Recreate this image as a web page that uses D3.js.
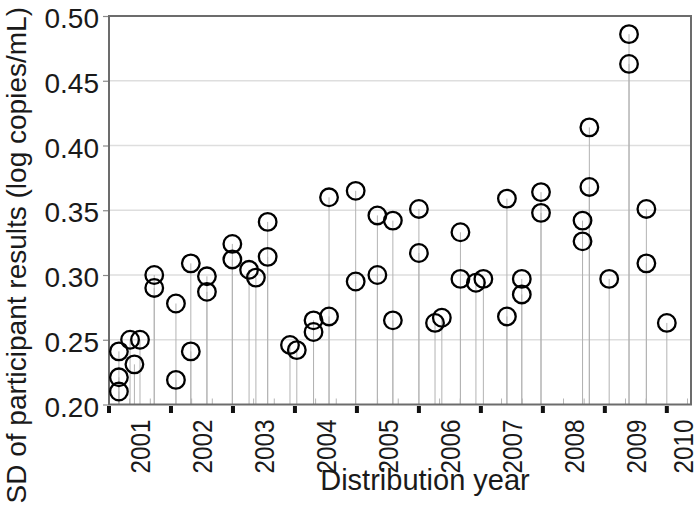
<!DOCTYPE html>
<html>
<head>
<meta charset="utf-8">
<script src="https://cdn.jsdelivr.net/npm/d3@7"></script>
<style>
  html, body { margin: 0; padding: 0; background: #fff; }
  svg { display: block; }
  text { font-family: "Liberation Sans", Arial, sans-serif; fill: #1a1a1a; }
</style>
</head>
<body>
<script>
// ---- Data ----
const sampleDates = [
  2001.16, 2001.16, 2001.16, 2001.34, 2001.50, 2001.41, 2001.73, 2001.73,
  2002.08, 2002.08, 2002.32, 2002.32, 2002.58, 2002.58, 2002.99, 2002.99,
  2003.26, 2003.37, 2003.56, 2003.56, 2003.92, 2004.03, 2004.30, 2004.30,
  2004.55, 2004.55, 2004.98, 2004.98, 2005.33, 2005.33, 2005.58, 2005.58,
  2006.00, 2006.00, 2006.26, 2006.37, 2006.67, 2006.67, 2006.92, 2007.04,
  2007.42, 2007.42, 2007.66, 2007.66, 2007.97, 2007.97, 2008.64, 2008.64,
  2008.75, 2008.75, 2009.07, 2009.39, 2009.39, 2009.67, 2009.67, 2010.00
];
const sdValues = [
  0.210, 0.221, 0.241, 0.250, 0.250, 0.231, 0.300, 0.290,
  0.278, 0.219, 0.309, 0.241, 0.299, 0.287, 0.324, 0.312,
  0.304, 0.298, 0.341, 0.314, 0.246, 0.242, 0.265, 0.256,
  0.268, 0.360, 0.365, 0.295, 0.346, 0.300, 0.342, 0.265,
  0.351, 0.317, 0.263, 0.267, 0.333, 0.297, 0.294, 0.297,
  0.359, 0.268, 0.297, 0.285, 0.364, 0.348, 0.342, 0.326,
  0.414, 0.368, 0.297, 0.486, 0.463, 0.351, 0.309, 0.263
];
const yTicks = [0.20, 0.25, 0.30, 0.35, 0.40, 0.45, 0.50];
const yTickLabels = ["0.20", "0.25", "0.30", "0.35", "0.40", "0.45", "0.50"];
const yearTicks = [2001, 2002, 2003, 2004, 2005, 2006, 2007, 2008, 2009, 2010];
const yearLabels = ["2001", "2002", "2003", "2004", "2005", "2006", "2007", "2008", "2009", "2010"];
const xDomain = [2001, 2010.39];
const yDomain = [0.20, 0.50];
const yTitle = "SD of participant results (log copies/mL)";
const xTitle = "Distribution year";

// ---- Layout ----
const W = 700, H = 521;
const plot = { left: 109, right: 691, top: 16, bottom: 404.5 };

const svg = d3.select("body").append("svg").attr("width", W).attr("height", H);

const x = d3.scaleLinear().domain(xDomain).range([plot.left, plot.right]);
const y = d3.scaleLinear().domain(yDomain).range([plot.bottom, plot.top]);

// gridlines
svg.append("g").selectAll("line").data(yTicks.filter(t => t > 0.2 && t < 0.5)).join("line")
  .attr("x1", plot.left).attr("x2", plot.right)
  .attr("y1", d => y(d)).attr("y2", d => y(d))
  .attr("stroke", "#dedede").attr("stroke-width", 1.5);

// minor ticks every 4 months
const minor = [];
for (let yr = 2001; yr < 2011; yr++) {
  [1 / 3, 2 / 3].forEach(f => { if (yr + f < xDomain[1]) minor.push(yr + f); });
}
svg.append("g").selectAll("line").data(minor).join("line")
  .attr("x1", d => x(d)).attr("x2", d => x(d))
  .attr("y1", plot.bottom).attr("y2", plot.bottom - 6)
  .attr("stroke", "#b5b5b5").attr("stroke-width", 1);

// stems
svg.append("g").selectAll("line").data(sampleDates).join("line")
  .attr("x1", d => x(d)).attr("x2", d => x(d))
  .attr("y1", y(yDomain[0])).attr("y2", (d, i) => y(sdValues[i]))
  .attr("stroke", "#b3b3b3").attr("stroke-width", 1);

// frame
svg.append("rect")
  .attr("x", plot.left).attr("y", plot.top)
  .attr("width", plot.right - plot.left).attr("height", plot.bottom - plot.top)
  .attr("fill", "none").attr("stroke", "#6c6c6c").attr("stroke-width", 2);

// y axis (ticks + labels)
const yAxis = d3.axisLeft(y).tickValues(yTicks)
  .tickFormat((d, i) => yTickLabels[i]).tickSize(5).tickPadding(4);
const gy = svg.append("g").attr("transform", `translate(${plot.left - 1},0)`).call(yAxis);
gy.select(".domain").remove();
gy.selectAll(".tick line").attr("stroke", "#8a8a8a").attr("stroke-width", 1.2);
gy.selectAll(".tick text")
  .attr("font-size", 28).attr("dy", null).attr("y", 11.5).attr("x", -9)
  .style("font-family", "'Liberation Sans', Arial, sans-serif").attr("fill", "#1a1a1a");

// x axis major ticks (black blocks below axis)
svg.append("g").selectAll("rect").data(yearTicks).join("rect")
  .attr("x", d => x(d) - 2).attr("y", plot.bottom + 1.5)
  .attr("width", 4).attr("height", 7).attr("fill", "#111");

// x tick labels, rotated, centred in year bands
svg.append("g").selectAll("text").data(yearTicks).join("text")
  .each(function (d, i) {
    const cx = Math.min(x(d + 0.5), W - 17);
    d3.select(this)
      .attr("transform", `translate(${cx + 10},${plot.bottom + 15}) rotate(-90)`)
      .attr("text-anchor", "end")
      .attr("font-size", 28)
      .attr("textLength", 54)
      .attr("lengthAdjust", "spacingAndGlyphs")
      .text(yearLabels[i]);
  });

// circles
svg.append("g").selectAll("circle").data(sampleDates).join("circle")
  .attr("cx", d => x(d)).attr("cy", (d, i) => y(sdValues[i]))
  .attr("r", 8.8).attr("fill", "none").attr("stroke", "#000").attr("stroke-width", 2.3);

// axis titles
svg.append("text")
  .attr("transform", `translate(25.5,${(plot.top + plot.bottom) / 2 + 45}) rotate(-90)`)
  .attr("text-anchor", "middle").attr("font-size", 28)
  .text(yTitle);

svg.append("text")
  .attr("x", 425).attr("y", 490)
  .attr("text-anchor", "middle").attr("font-size", 29)
  .text(xTitle);
</script>
</body>
</html>
